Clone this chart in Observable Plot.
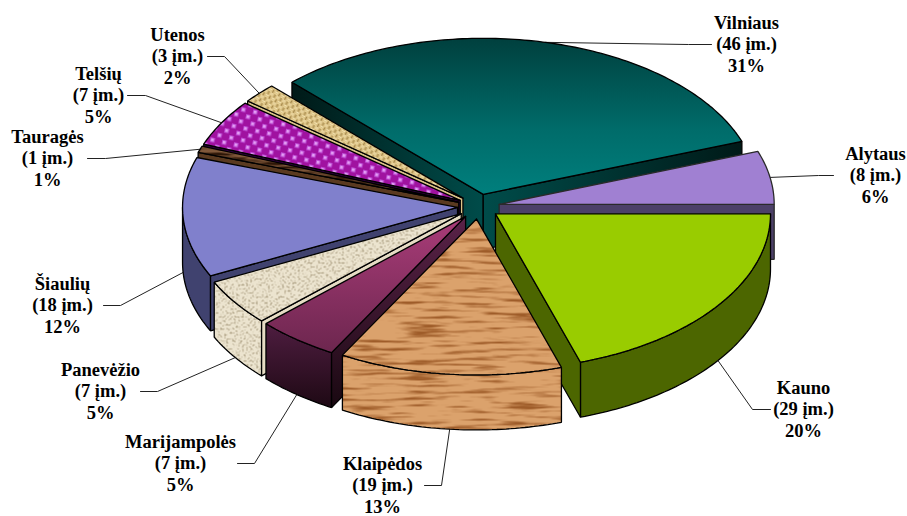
<!DOCTYPE html>
<html>
<head>
<meta charset="utf-8">
<script src="https://cdn.jsdelivr.net/npm/d3@7"></script>
<script src="https://cdn.jsdelivr.net/npm/@observablehq/plot@0.6"></script>
<style>html,body{margin:0;padding:0;background:#fff}</style>
</head>
<body>
<div id="chart"></div>
<script>
// ---- data ----
const regions = ["Vilniaus","Alytaus","Kauno","Klaipėdos","Marijampolės","Panevėžio","Šiaulių","Tauragės","Telšių","Utenos"];
const counts  = [46,8,29,19,7,7,18,1,7,3];
const percents = [31,6,20,13,5,5,12,1,5,2];

// ---- layout (not data) ----
const W = 907, H = 516;
const cx = 478, cy = 206, rx = 275, ry = 156, depth = 55, explodeX = 21, explodeY = 12.5;
const startDeg = -44.07;
const labelX = [746,875,803,382,180,100,62,47,98,177];
const labelY = [44,175,409,485,463,391,305,158,95,56];
const leaderX = [711,833,770,424,237,140,103,87,127,207];
const elbowX  = [688,818,752,441,254,157,120,105,145,224];
const drawOrder = [0,1,9,8,7,6,2,5,4,3];
const topFill  = ["url(#vilTop)","#a080d2","#99cc00","url(#wood)","url(#marTop)","url(#canvas)","#8080cc","url(#bark)","url(#dots)","url(#burlap)"];
const rimFill  = ["#00302e","#4c4068","#4c6600","url(#wood)","url(#marRim)","url(#canvas)","#40426f","url(#bark)","#300040","#dcc488"];
const faceStart= ["url(#vilStart)","#4c4068","#4c6600","url(#wood)","url(#marFace)","#e6dcc4","#40426f","#5a3a20","#300040","#dcc488"];
const faceEnd  = ["url(#vilEnd)","#4c4068","#4c6600","url(#wood)","url(#marFace)","#e6dcc4","#40426f","#5a3a20","#300040","#dcc488"];

// ---- geometry derived from the values ----
const rad = d => d * Math.PI / 180;
const arcs = d3.pie().sort(null).startAngle(rad(startDeg)).endAngle(rad(startDeg + 360))(counts);
const slices = arcs.map((a, i) => {
  const mid = (a.startAngle + a.endAngle) / 2;
  return {i, a0: a.startAngle, a1: a.endAngle, mid,
    ax: cx + explodeX * Math.sin(mid), ay: cy - explodeY * Math.cos(mid)};
});
const rimPt = (s, t, dz = 0) => [s.ax + rx * Math.sin(t), s.ay - ry * Math.cos(t) + dz];
const arcPts = (s, t0, t1, dz = 0) => {
  const n = Math.max(2, Math.ceil(Math.abs(t1 - t0) / rad(1)));
  return d3.range(n + 1).map(k => rimPt(s, t0 + (t1 - t0) * k / n, dz));
};
const closed = p => [...p, p[0]];

const strokeOf = i => (i === 1 ? "#2a2a2a" : "#000");
const poly = (pts, fill, i) => Plot.line(closed(pts), {
  x: d => d[0], y: d => d[1], fill, stroke: strokeOf(i), strokeWidth: 1.3,
  strokeLinejoin: "miter", curve: "linear"
});

const marks = [];
// leader lines, anchored on the slice rim
slices.forEach(s => {
  const front = Math.cos(s.mid) < 0;
  const end = rimPt(s, s.mid, front ? depth : 0);
  const ly = labelY[s.i];
  marks.push(Plot.line([[leaderX[s.i], ly],[elbowX[s.i], ly], end], {
    x: d => d[0], y: d => d[1], stroke: "#222", strokeWidth: 1, curve: "linear"
  }));
});
// slices back to front
drawOrder.forEach(i => {
  const s = slices[i];
  const norm = t => ((t % (2*Math.PI)) + 2*Math.PI) % (2*Math.PI);
  const n0 = norm(s.a0), span = s.a1 - s.a0;
  const rl = Math.max(n0, Math.PI/2), rh = Math.min(n0 + span, 3*Math.PI/2);
  if (rh > rl) {
    const top = arcPts(s, rl, rh, 0), bottom = arcPts(s, rh, rl, depth);
    marks.push(poly([...top, ...bottom], rimFill[i], i));
  }
  if (Math.sin(s.a0) < 0) {
    const e = rimPt(s, s.a0);
    marks.push(poly([[s.ax,s.ay], e, [e[0],e[1]+depth], [s.ax,s.ay+depth]], faceStart[i], i));
  }
  if (Math.sin(s.a1) > 0) {
    const e = rimPt(s, s.a1);
    marks.push(poly([[s.ax,s.ay], e, [e[0],e[1]+depth], [s.ax,s.ay+depth]], faceEnd[i], i));
  }
  marks.push(poly([[s.ax,s.ay], ...arcPts(s, s.a0, s.a1)], topFill[i], i));
});
// labels
const labels = regions.map((r, i) => ({x: labelX[i], y: labelY[i], t: `${r}\n(${counts[i]} įm.)\n${percents[i]}%`}));
marks.push(Plot.text(labels, {
  x: "x", y: "y", text: "t", textAnchor: "middle", lineAnchor: "middle", lineHeight: 1.17, dy: -1,
  fontFamily: "Liberation Serif", fontWeight: "bold", fontSize: 18.5, fill: "#000"
}));

const svg = Plot.plot({
  width: W, height: H, margin: 0,
  x: {domain: [0, W], range: [0, W], axis: null},
  y: {domain: [0, H], range: [0, H], axis: null},
  style: {background: "white"},
  marks
});

// ---- fills ----
const defs = document.createElementNS("http://www.w3.org/2000/svg", "defs");
defs.innerHTML = `
<linearGradient id="vilTop" gradientUnits="userSpaceOnUse" x1="0" y1="38" x2="0" y2="190">
  <stop offset="0" stop-color="#00403e"/><stop offset="0.6" stop-color="#006c6a"/><stop offset="1" stop-color="#007e7c"/></linearGradient>
<linearGradient id="vilStart" gradientUnits="userSpaceOnUse" x1="293" y1="0" x2="483" y2="0">
  <stop offset="0" stop-color="#001a18"/><stop offset="1" stop-color="#004c4a"/></linearGradient>
<linearGradient id="vilEnd" gradientUnits="userSpaceOnUse" x1="740" y1="0" x2="483" y2="0">
  <stop offset="0" stop-color="#001a18"/><stop offset="1" stop-color="#004c4a"/></linearGradient>
<linearGradient id="marTop" gradientUnits="userSpaceOnUse" x1="0" y1="218" x2="0" y2="354">
  <stop offset="0" stop-color="#a83c78"/><stop offset="1" stop-color="#6c264e"/></linearGradient>
<linearGradient id="marRim" gradientUnits="userSpaceOnUse" x1="0" y1="327" x2="0" y2="410">
  <stop offset="0" stop-color="#4c1c3e"/><stop offset="1" stop-color="#1c0812"/></linearGradient>
<linearGradient id="marFace" gradientUnits="userSpaceOnUse" x1="0" y1="218" x2="0" y2="410">
  <stop offset="0" stop-color="#5a2248"/><stop offset="1" stop-color="#180810"/></linearGradient>
<filter id="woodDark" x="0" y="0" width="100%" height="100%" color-interpolation-filters="sRGB">
  <feTurbulence type="fractalNoise" baseFrequency="0.02 0.28" numOctaves="3" seed="11" stitchTiles="stitch"/>
  <feColorMatrix type="matrix" values="0 0 0 0 0.62  0 0 0 0 0.36  0 0 0 0 0.16  4.5 0 0 0 -2.3"/>
</filter>
<pattern id="wood" patternUnits="userSpaceOnUse" width="600" height="516">
  <rect width="600" height="516" fill="#dba26c"/>
  <rect width="600" height="516" filter="url(#woodDark)"/>
</pattern>
<filter id="barkF" x="0" y="0" width="100%" height="100%" color-interpolation-filters="sRGB">
  <feTurbulence type="fractalNoise" baseFrequency="0.03 0.35" numOctaves="2" seed="3" stitchTiles="stitch"/>
  <feColorMatrix type="matrix" values="0 0 0 0 0.18  0 0 0 0 0.09  0 0 0 0 0.03  7 0 0 0 -3.2"/>
</filter>
<pattern id="bark" patternUnits="userSpaceOnUse" width="600" height="516">
  <rect width="600" height="516" fill="#80583a"/>
  <rect width="600" height="516" filter="url(#barkF)"/>
</pattern>
<pattern id="dots" patternUnits="userSpaceOnUse" width="12" height="12" patternTransform="rotate(12)">
  <rect width="12" height="12" fill="#a012a0"/>
  <rect x="0" y="0" width="4.6" height="4.6" fill="#c050d8"/>
  <rect x="6" y="6" width="4.6" height="4.6" fill="#c050d8"/>
  <rect x="1" y="1" width="2.6" height="2.6" fill="#e4a0f4"/>
  <rect x="7" y="7" width="2.6" height="2.6" fill="#e4a0f4"/>
</pattern>
<filter id="grainF" x="0" y="0" width="100%" height="100%" color-interpolation-filters="sRGB">
  <feTurbulence type="fractalNoise" baseFrequency="0.5" numOctaves="2" seed="5" stitchTiles="stitch"/>
  <feColorMatrix type="matrix" values="0 0 0 0 0.45  0 0 0 0 0.38  0 0 0 0 0.24  5 0 0 0 -2.6"/>
</filter>
<pattern id="burlap" patternUnits="userSpaceOnUse" width="7" height="7" patternTransform="rotate(30)">
  <rect width="7" height="7" fill="#d6bb7c"/>
  <rect x="0" y="0.4" width="3.5" height="1.2" fill="#f2e2b0"/>
  <rect x="0" y="2.2" width="3.5" height="1.2" fill="#ecd69c"/>
  <rect x="3.5" y="3.9" width="3.5" height="1.2" fill="#f2e2b0"/>
  <rect x="3.5" y="5.7" width="3.5" height="1.2" fill="#ecd69c"/>
  <rect x="4.6" y="0" width="1" height="3.5" fill="#a08448"/>
  <rect x="1.1" y="3.5" width="1" height="3.5" fill="#a08448"/>
</pattern>
<pattern id="canvas" patternUnits="userSpaceOnUse" width="200" height="200">
  <rect width="200" height="200" fill="#ece4cf"/>
  <rect width="200" height="200" filter="url(#grainF)" opacity="0.55"/>
</pattern>`;
svg.insertBefore(defs, svg.firstChild);
document.getElementById("chart").appendChild(svg);
</script>
</body>
</html>
